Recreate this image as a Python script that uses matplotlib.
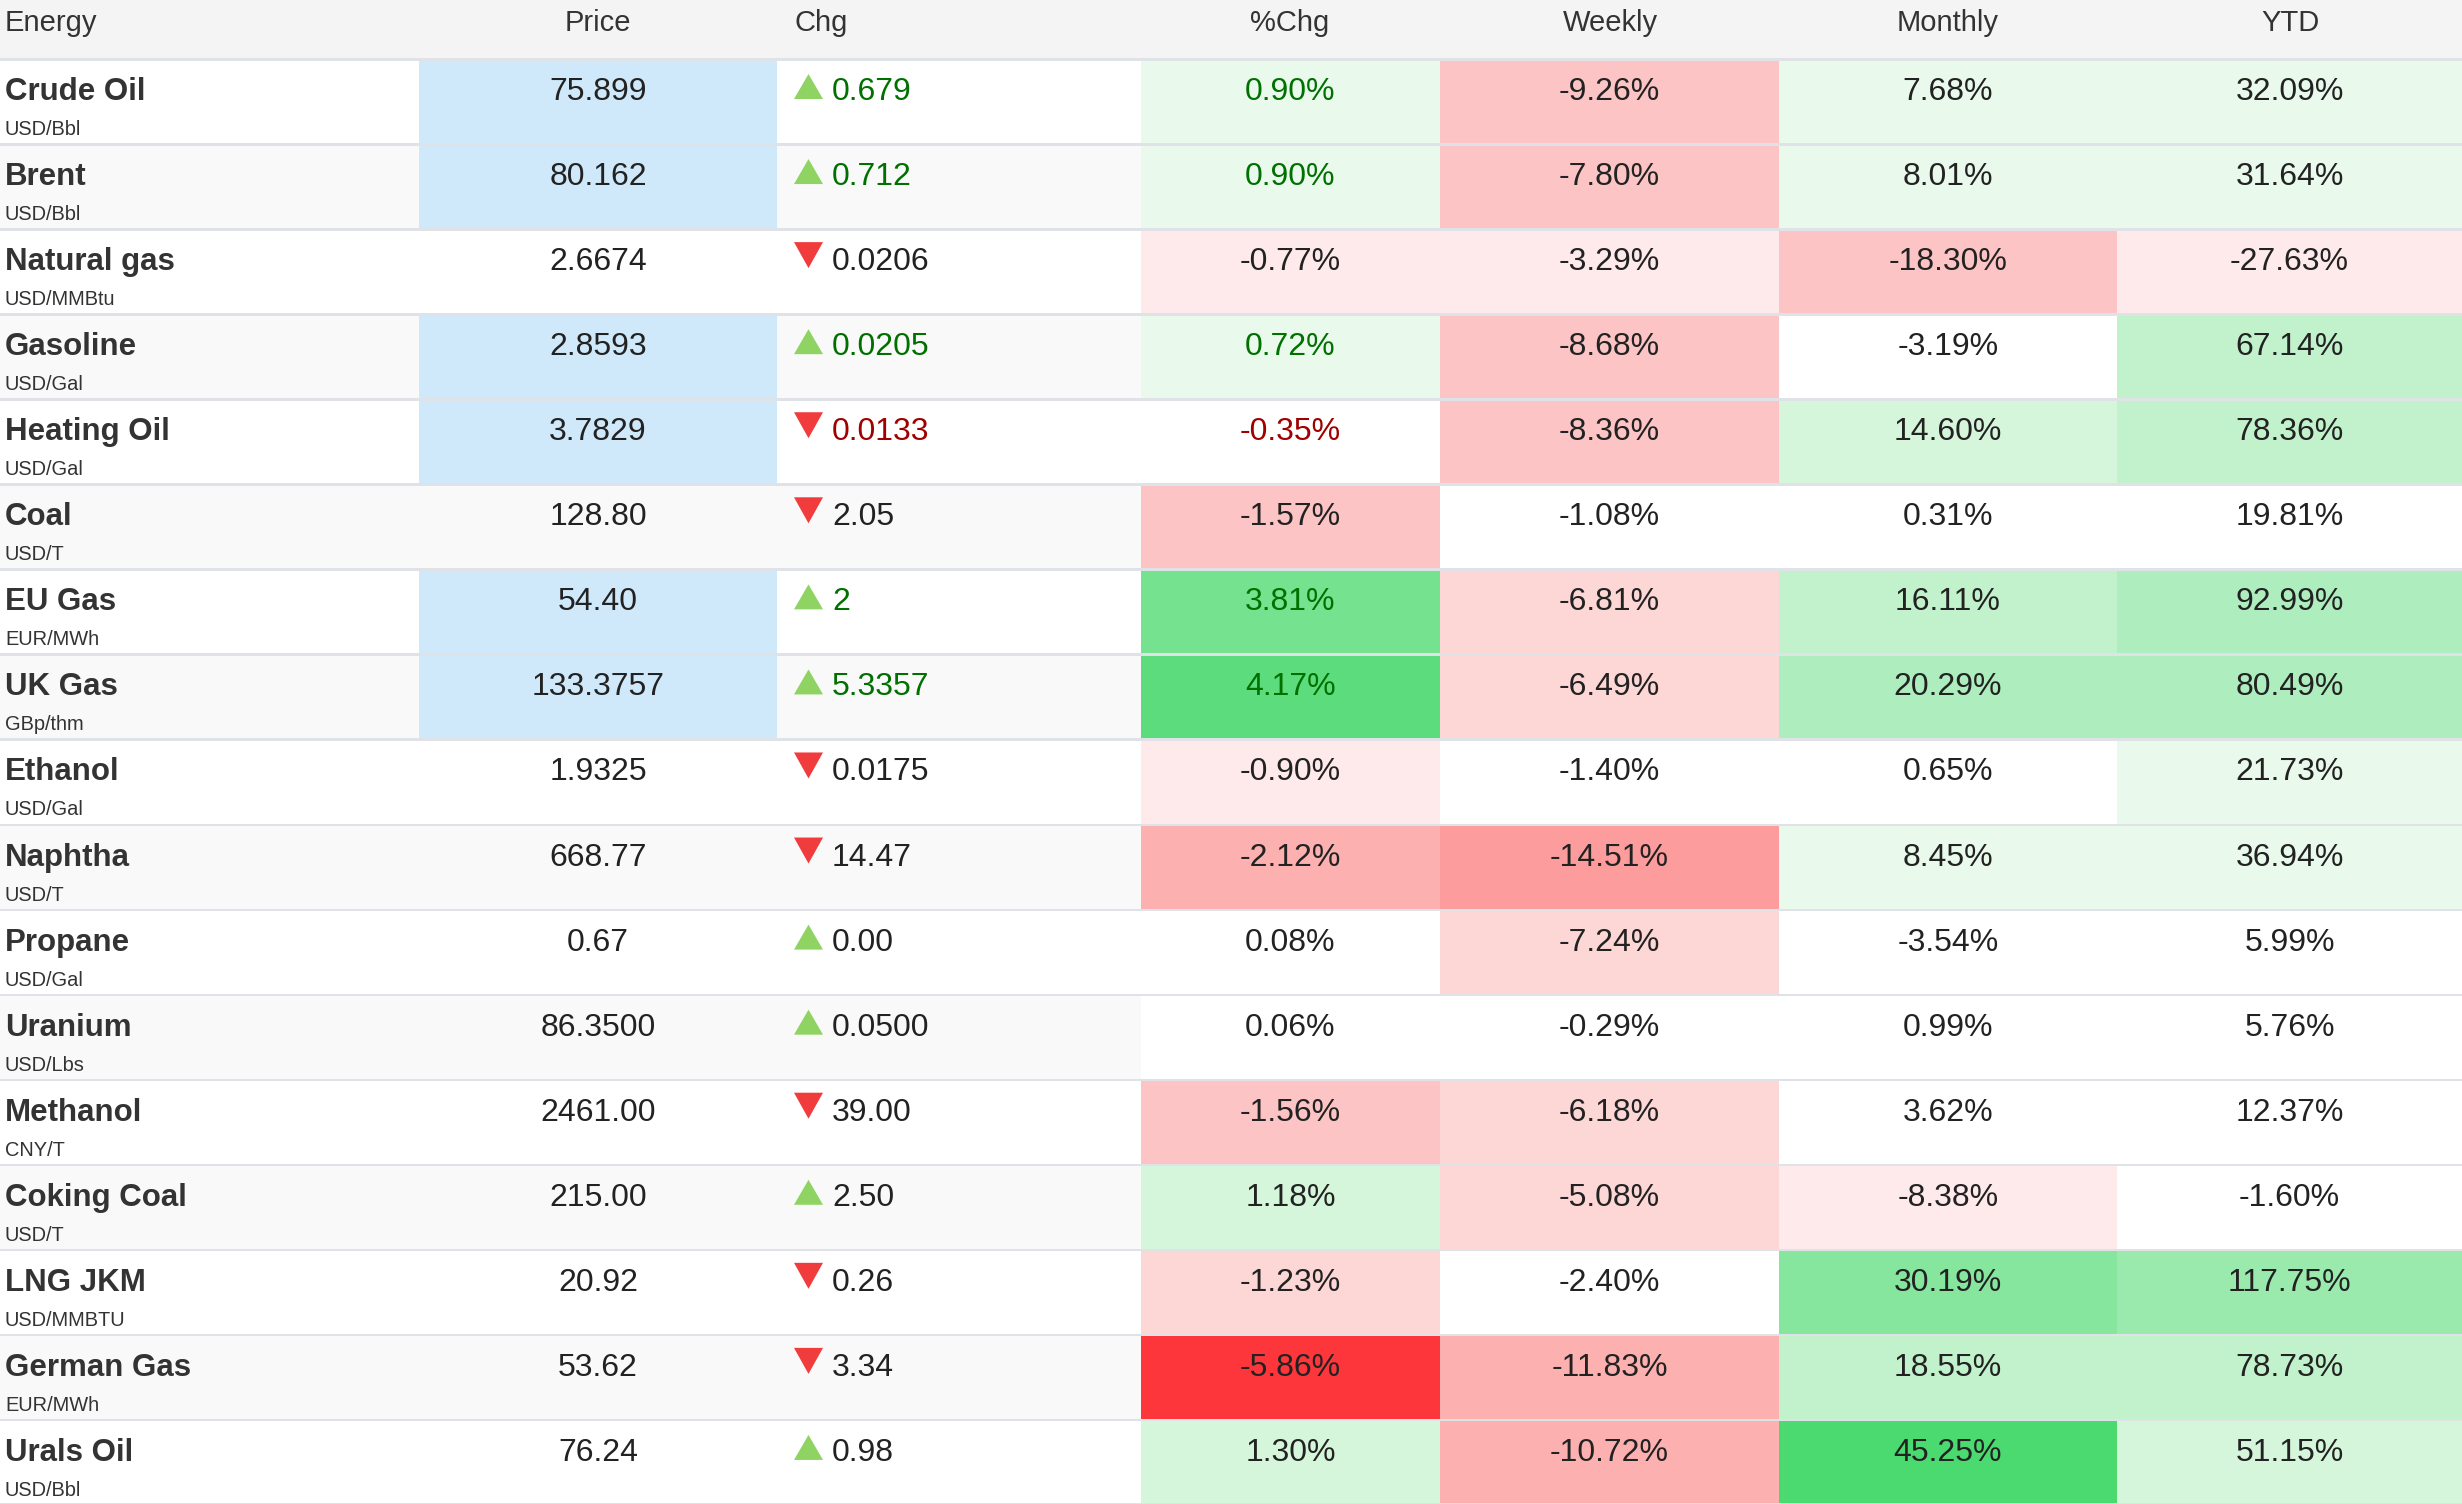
import matplotlib
matplotlib.use("Agg")
import matplotlib.pyplot as plt
from matplotlib.patches import Rectangle, Polygon

plt.rcParams['font.family'] = ['Liberation Sans', 'DejaVu Sans']

# table data
headers = ["Energy", "Price", "Chg", "%Chg", "Weekly", "Monthly", "YTD"]
names = ["Crude Oil", "Brent", "Natural gas", "Gasoline", "Heating Oil", "Coal", "EU Gas",
         "UK Gas", "Ethanol", "Naphtha", "Propane", "Uranium", "Methanol", "Coking Coal",
         "LNG JKM", "German Gas", "Urals Oil"]
units = ["USD/Bbl", "USD/Bbl", "USD/MMBtu", "USD/Gal", "USD/Gal", "USD/T", "EUR/MWh",
         "GBp/thm", "USD/Gal", "USD/T", "USD/Gal", "USD/Lbs", "CNY/T", "USD/T",
         "USD/MMBTU", "EUR/MWh", "USD/Bbl"]
price = ["75.899", "80.162", "2.6674", "2.8593", "3.7829", "128.80", "54.40", "133.3757",
         "1.9325", "668.77", "0.67", "86.3500", "2461.00", "215.00", "20.92", "53.62", "76.24"]
chg = ["0.679", "0.712", "-0.0206", "0.0205", "-0.0133", "-2.05", "2", "5.3357",
       "-0.0175", "-14.47", "0.00", "0.0500", "-39.00", "2.50", "-0.26", "-3.34", "0.98"]
pct = [0.90, 0.90, -0.77, 0.72, -0.35, -1.57, 3.81, 4.17, -0.90, -2.12, 0.08, 0.06,
       -1.56, 1.18, -1.23, -5.86, 1.30]
weekly = [-9.26, -7.80, -3.29, -8.68, -8.36, -1.08, -6.81, -6.49, -1.40, -14.51, -7.24,
          -0.29, -6.18, -5.08, -2.40, -11.83, -10.72]
monthly = [7.68, 8.01, -18.30, -3.19, 14.60, 0.31, 16.11, 20.29, 0.65, 8.45, -3.54, 0.99,
           3.62, -8.38, 30.19, 18.55, 45.25]
ytd = [32.09, 31.64, -27.63, 67.14, 78.36, 19.81, 92.99, 80.49, 21.73, 36.94, 5.99, 5.76,
       12.37, -1.60, 117.75, 78.73, 51.15]
# rows with fresh quotes (blue price cell, coloured change)
updated = [True, True, False, True, True, False, True, True, False, False, False, False,
           False, False, False, False, False]
# heat shade level of each percent cell (+ green, - red, 0 none)
pct_lvl = [1, 1, -1, 1, 0, -3, 7, 8, -1, -4, 0, 0, -3, 2, -2, -9, 2]
weekly_lvl = [-3, -3, -1, -3, -3, 0, -2, -2, 0, -5, -2, 0, -2, -2, 0, -4, -4]
monthly_lvl = [1, 1, -3, 0, 2, 0, 3, 4, 0, 1, 0, 0, 0, -1, 6, 3, 9]
ytd_lvl = [1, 1, -1, 3, 3, 0, 4, 4, 1, 1, 0, 0, 0, 0, 5, 3, 2]

greens = ["#ffffff", "#e9f9ec", "#d6f6dc", "#c2f2cc", "#aeeebe", "#9aeaae",
          "#86e69e", "#74e28e", "#5cdc7c", "#4ada70"]
reds = ["#ffffff", "#feeaea", "#fdd6d6", "#fcc4c4", "#fcb0b0", "#fc9c9c",
        "#fc8686", "#fc7070", "#fc5454", "#fc363a"]

def shade(lvl):
    return greens[lvl] if lvl >= 0 else reds[-lvl]

W, H = 2462, 1504
edges = [0, 419, 777, 1141, 1440, 1779, 2117, 2462]
head_h = 58
row_h = (H - head_h) / len(names)

fig = plt.figure(figsize=(W / 100, H / 100), dpi=100)
ax = fig.add_axes([0, 0, 1, 1])
ax.set_xlim(0, W)
ax.set_ylim(H, 0)
ax.axis('off')

dark = "#222222"
green_txt = "#007000"
red_txt = "#a00000"

# header
ax.add_patch(Rectangle((0, 0), W, head_h, color="#f4f4f4", lw=0))
hx = [5, 598, 794, 1290, 1610, 1948, 2290]
hal = ["left", "center", "left", "center", "center", "center", "center"]
for j, h in enumerate(headers):
    ax.text(hx[j], 31, h, ha=hal[j], va="baseline", fontsize=21, color="#333333")

pct_cols = [(pct, pct_lvl), (weekly, weekly_lvl), (monthly, monthly_lvl), (ytd, ytd_lvl)]

for i, name in enumerate(names):
    top = head_h + i * row_h
    stripe = "#f9f9f9" if i % 2 == 1 else "#ffffff"
    ax.add_patch(Rectangle((0, top), edges[3], row_h, color=stripe, lw=0))
    if updated[i]:
        ax.add_patch(Rectangle((edges[1], top), edges[2] - edges[1], row_h,
                               color="#cfe9fa", lw=0))
    for k, (vals, lvls) in enumerate(pct_cols):
        x0 = edges[3 + k]
        ax.add_patch(Rectangle((x0, top), edges[4 + k] - x0, row_h,
                               color=shade(lvls[i]), lw=0))
    base = top + 42
    ax.text(5, base, name, ha="left", va="baseline", fontsize=22.5,
            fontweight="bold", color="#333333")
    ax.text(5, top + 77, units[i], ha="left", va="baseline", fontsize=14.4,
            color="#333333")
    ax.text(598, base, price[i], ha="center", va="baseline", fontsize=23, color=dark)

    up = not chg[i].startswith("-")
    if up:
        tri = [(794, base - 1), (823, base - 1), (808.5, base - 26)]
        tri_col = "#8fd462"
    else:
        tri = [(794, base - 28), (823, base - 28), (808.5, base - 2)]
        tri_col = "#f03c3c"
    ax.add_patch(Polygon(tri, closed=True, color=tri_col, lw=0))
    c_txt = dark
    if updated[i]:
        c_txt = green_txt if up else red_txt
    ax.text(832, base, chg[i].lstrip("-"), ha="left", va="baseline", fontsize=23,
            color=c_txt)

    for k, (vals, lvls) in enumerate(pct_cols):
        cx = (edges[3 + k] + edges[4 + k]) / 2
        col = dark
        if k == 0 and updated[i]:
            col = green_txt if vals[i] >= 0 else red_txt
        ax.text(cx, base, "%.2f%%" % vals[i], ha="center", va="baseline",
                fontsize=23, color=col)

# separator lines
for i in range(len(names) + 1):
    y = head_h + i * row_h
    ax.add_patch(Rectangle((0, y - 1.5 if i == len(names) else y), W, 2.5,
                           color="#dfe2e6", lw=0))

fig.savefig("out.png", dpi=100)
